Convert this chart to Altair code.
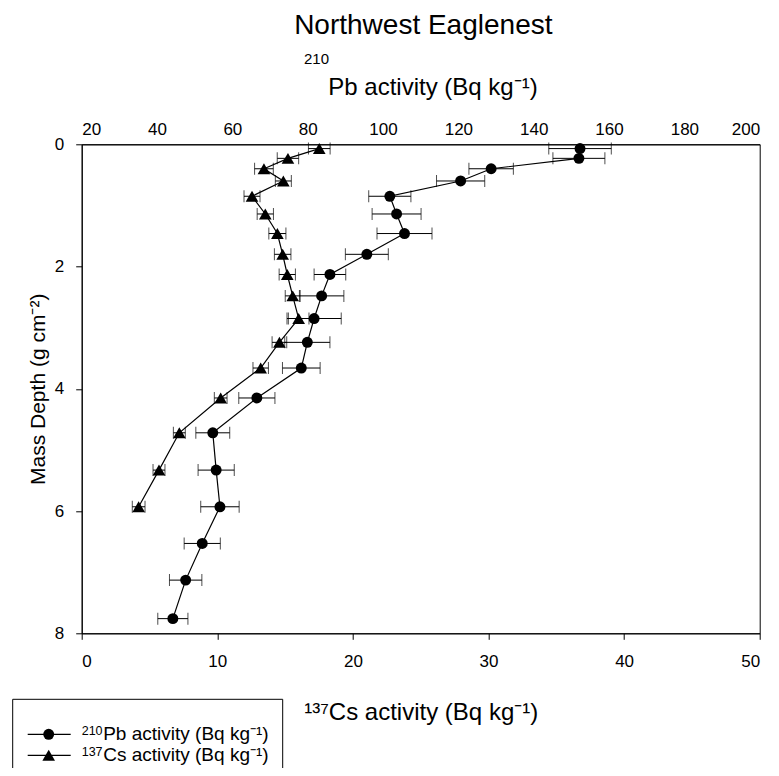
import altair as alt
import pandas as pd

# ---------------- data ----------------
depth = [0.07, 0.23, 0.40, 0.60, 0.85, 1.14, 1.46, 1.80, 2.13, 2.48,
         2.85, 3.24, 3.66, 4.15, 4.72, 5.33, 5.93, 6.53, 7.13, 7.76]
pb_activity = [152.3, 152.0, 128.7, 120.6, 101.8, 103.6, 105.7, 95.7, 85.9, 83.7,
               81.7, 79.9, 78.3, 66.5, 54.8, 55.7, 56.7, 52.0, 47.6, 44.2]
pb_error = [8.3, 6.9, 5.9, 6.4, 5.6, 6.5, 7.3, 5.7, 4.2, 5.9,
            7.2, 6.0, 5.0, 4.8, 4.5, 4.8, 5.1, 4.8, 4.3, 4.0]
cs_depth = depth[:17]
cs_activity = [17.52, 15.21, 13.44, 14.87, 12.56, 13.54, 14.43, 14.82, 15.16, 15.56,
               16.00, 14.58, 13.20, 10.25, 7.20, 5.70, 4.20]
cs_error = [0.80, 0.79, 0.69, 0.59, 0.59, 0.60, 0.63, 0.61, 0.60, 0.55,
            0.76, 0.54, 0.57, 0.47, 0.44, 0.44, 0.47]

pb_ticks = [20, 40, 60, 80, 100, 120, 140, 160, 180, 200]
cs_ticks = [0, 10, 20, 30, 40, 50]
depth_ticks = [0, 2, 4, 6, 8]

title_text = "Northwest Eaglenest"
pb_iso = "210"
cs_iso = "137"
activity_unit = "activity (Bq kg⁻¹)"
pb_main = "Pb " + activity_unit
cs_main = "Cs " + activity_unit
cs_label = "¹³⁷Cs " + activity_unit
depth_label = "Mass Depth (g cm⁻²)"

pb_df = pd.DataFrame({
    "depth": depth,
    "pb": pb_activity,
    "lo": [a - e for a, e in zip(pb_activity, pb_error)],
    "hi": [a + e for a, e in zip(pb_activity, pb_error)],
})
cs_df = pd.DataFrame({
    "depth": cs_depth,
    "cs": cs_activity,
    "lo": [a - e for a, e in zip(cs_activity, cs_error)],
    "hi": [a + e for a, e in zip(cs_activity, cs_error)],
})

FONT = "Liberation Sans"
BLACK = "black"

y_scale = alt.Scale(domain=[0, 8], reverse=True, nice=False, zero=False)
y_axis = alt.Axis(values=depth_ticks, title=depth_label, orient="left",
                  tickSize=6, labelPadding=12, titlePadding=6,
                  titleFontSize=21, labelFontSize=17, grid=False, format="d")

pb_scale = alt.Scale(domain=[20, 200], nice=False, zero=False)
pb_axis = alt.Axis(orient="top", values=pb_ticks, ticks=False, tickSize=0,
                   labelPadding=6, title=None, grid=False, format="d")
cs_scale = alt.Scale(domain=[0, 50], nice=False, zero=False)
cs_axis = alt.Axis(orient="bottom", values=cs_ticks, tickSize=6, labelPadding=14,
                   title=cs_label, titleFontSize=24, titlePadding=31,
                   grid=False, format="d")


def yq():
    return alt.Y("depth:Q", scale=y_scale, axis=y_axis)


# ---------------- 210Pb (top axis) ----------------
pb_base = alt.Chart(pb_df)
pb_bars = pb_base.mark_rule(color=BLACK, strokeWidth=1).encode(
    x=alt.X("lo:Q", scale=pb_scale, axis=pb_axis), x2="hi:Q", y=yq())
pb_cap_lo = pb_base.mark_tick(orient="vertical", size=12, thickness=1, color=BLACK).encode(
    x=alt.X("lo:Q", scale=pb_scale, axis=pb_axis), y=yq())
pb_cap_hi = pb_base.mark_tick(orient="vertical", size=12, thickness=1, color=BLACK).encode(
    x=alt.X("hi:Q", scale=pb_scale, axis=pb_axis), y=yq())
pb_line = pb_base.mark_line(color=BLACK, strokeWidth=1.2).encode(
    x=alt.X("pb:Q", scale=pb_scale, axis=pb_axis), y=yq(), order="depth:Q")
pb_pts = pb_base.mark_point(shape="circle", filled=True, size=120, color=BLACK, opacity=1).encode(
    x=alt.X("pb:Q", scale=pb_scale, axis=pb_axis), y=yq())
pb_layer = alt.layer(pb_bars, pb_cap_lo, pb_cap_hi, pb_line, pb_pts)

# ---------------- 137Cs (bottom axis) ----------------
cs_base = alt.Chart(cs_df)
cs_bars = cs_base.mark_rule(color=BLACK, strokeWidth=1).encode(
    x=alt.X("lo:Q", scale=cs_scale, axis=cs_axis), x2="hi:Q", y=yq())
cs_cap_lo = cs_base.mark_tick(orient="vertical", size=12, thickness=1, color=BLACK).encode(
    x=alt.X("lo:Q", scale=cs_scale, axis=cs_axis), y=yq())
cs_cap_hi = cs_base.mark_tick(orient="vertical", size=12, thickness=1, color=BLACK).encode(
    x=alt.X("hi:Q", scale=cs_scale, axis=cs_axis), y=yq())
cs_line = cs_base.mark_line(color=BLACK, strokeWidth=1.2).encode(
    x=alt.X("cs:Q", scale=cs_scale, axis=cs_axis), y=yq(), order="depth:Q")
cs_pts = cs_base.mark_point(shape="triangle-up", filled=True, size=160, color=BLACK, opacity=1).encode(
    x=alt.X("cs:Q", scale=cs_scale, axis=cs_axis), y=yq())
cs_layer = alt.layer(cs_bars, cs_cap_lo, cs_cap_hi, cs_line, cs_pts)

# ---------------- decorations: titles and legend ----------------
one = pd.DataFrame({"k": [0]})
deco = alt.Chart(one)


def text(label, x, y, size, align="left", baseline="middle"):
    return deco.mark_text(font=FONT, fontSize=size, align=align, baseline=baseline,
                          color=BLACK).encode(x=alt.value(x), y=alt.value(y),
                                              text=alt.value(label))


title_mark = text(title_text, 341.6, -110.8, 28, align="center", baseline="alphabetic")
top_sup = text(pb_iso, 234.8, -85.3, 15, align="center")
top_title = text(pb_main, 351.3, -49.3, 24, align="center", baseline="alphabetic")

legend_box = deco.mark_rect(filled=False, stroke=BLACK, strokeWidth=1).encode(
    x=alt.value(-69), x2=alt.value(201), y=alt.value(555), y2=alt.value(660))
leg_y1, leg_y2 = 590, 611
leg_line1 = deco.mark_rule(color=BLACK, strokeWidth=1.2).encode(
    x=alt.value(-54), x2=alt.value(-11), y=alt.value(leg_y1))
leg_line2 = deco.mark_rule(color=BLACK, strokeWidth=1.2).encode(
    x=alt.value(-54), x2=alt.value(-11), y=alt.value(leg_y2))
leg_pt1 = deco.mark_point(shape="circle", filled=True, size=120, color=BLACK, opacity=1).encode(
    x=alt.value(-33), y=alt.value(leg_y1))
leg_pt2 = deco.mark_point(shape="triangle-up", filled=True, size=160, color=BLACK, opacity=1).encode(
    x=alt.value(-33), y=alt.value(leg_y2))
leg_sup1 = text(pb_iso, 0, leg_y1 + 1, 12.5, baseline="alphabetic")
leg_sup2 = text(cs_iso, 0, leg_y2 + 1, 12.5, baseline="alphabetic")
leg_txt1 = text(pb_main, 21.5, leg_y1, 19)
leg_txt2 = text(cs_main, 21.5, leg_y2, 19)

chart = alt.layer(
    pb_layer, cs_layer,
    title_mark, top_sup, top_title,
    legend_box, leg_line1, leg_line2, leg_pt1, leg_pt2,
    leg_sup1, leg_sup2, leg_txt1, leg_txt2,
).resolve_scale(x="independent").properties(
    width=678, height=489,
    autosize=alt.AutoSizeParams(type="none"),
    padding={"left": 73.7, "top": 136.3, "right": 11.3, "bottom": 134.7},
).configure_view(
    stroke=BLACK, strokeWidth=1
).configure_axis(
    domainColor=BLACK, tickColor=BLACK, labelColor=BLACK, titleColor=BLACK,
    labelFont=FONT, titleFont=FONT, labelFontSize=17, titleFontWeight="normal",
    domainWidth=1, tickWidth=1, grid=False,
)

chart.save("out.html", embed_options={"renderer": "svg", "actions": False})
